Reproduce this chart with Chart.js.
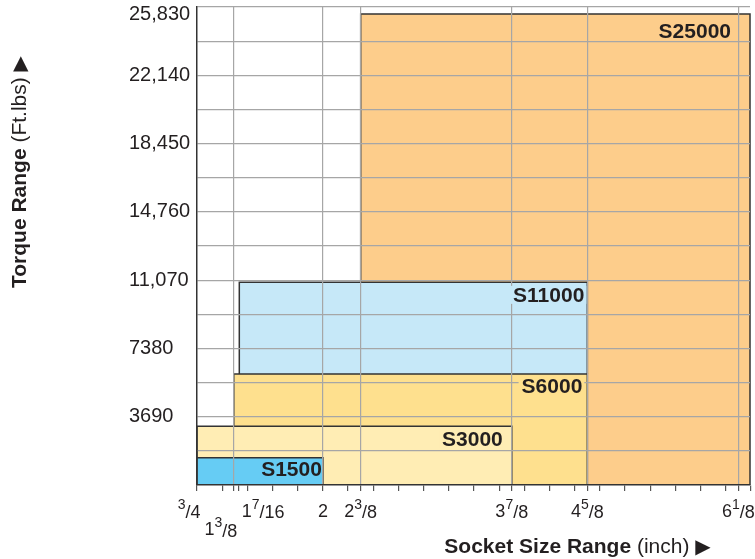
<!DOCTYPE html>
<html>
<head>
<meta charset="utf-8">
<script src="https://cdn.jsdelivr.net/npm/chart.js@4.4.0/dist/chart.umd.min.js"></script>
<style>
  body { margin: 0; background: #fff; }
</style>
</head>
<body>
<canvas id="rangeChart" width="755" height="559"></canvas>
<script>
// models
var models = ["S1500", "S3000", "S6000", "S11000", "S25000"];
// socket size range (inch, at the spot where the axis puts it)
var sizeFrom = [0.75, 0.75, 1.115, 1.17, 2.375];
var sizeTo = [2, 3.875, 4.625, 4.625, 6.24];
// torque range (ft.lbs)
var torqueFrom = [0, 0, 0, 6000, 0];
var torqueTo = [1470, 3180, 6000, 10950, 25450];

// axis ticks
var xTickValues = [0.75, 1.115, 1.16, 2, 2.375, 3.875, 4.625, 6.125];
var xTickWhole = ["", "1", "1", "2", "2", "3", "4", "6"];
var xTickNum = ["3", "3", "7", "", "3", "7", "5", "1"];
var xTickDen = ["4", "8", "16", "", "8", "8", "8", "8"];
var xMinorStep = 0.25;
var yTickValues = [3690, 7380, 11070, 14760, 18450, 22140, 25830];
var yTickLabels = ["3690", "7380", "11,070", "14,760", "18,450", "22,140", "25,830"];

// styles
var boxColors = ["#66ccf4", "#ffedb4", "#fee08e", "#c6e8f8", "#fdcd8b"];
var labelInset = [[1, 3.5], [9, 5], [5, 4], [3, 4.5], [19, 8.7]];
var xLabelAlign = ["right", "right", "left", "center", "center", "center", "center", "center"];
var xLabelRow = [0, 1, 0, 0, 0, 0, 0, 0];
var FONT = "'Liberation Sans', 'DejaVu Sans', Arial, sans-serif";
var INK = "#231f20";
var GRID = "#a6a6a6";

var xAllTicks = xTickValues.slice();
for (var t = 0.75; t <= 6.25; t += xMinorStep) {
  if (xAllTicks.indexOf(t) < 0) xAllTicks.push(t);
}
xAllTicks.sort(function (a, b) { return a - b; });

var datasets = models.map(function (m, i) {
  return {
    label: m,
    data: [
      { x: sizeFrom[i], y: torqueFrom[i] },
      { x: sizeFrom[i], y: torqueTo[i] },
      { x: sizeTo[i], y: torqueTo[i] },
      { x: sizeTo[i], y: torqueFrom[i] }
    ],
    fill: { value: torqueFrom[i] },
    backgroundColor: boxColors[i],
    borderColor: "#333",
    borderWidth: 1.5,
    pointRadius: 0,
    tension: 0,
    clip: false
  };
});

function drawFraction(ctx, x, y, whole, num, den, align) {
  var big = "18px " + FONT, small = "14px " + FONT;
  ctx.font = big;
  var ww = ctx.measureText(whole).width;
  ctx.font = small;
  var nw = ctx.measureText(num).width;
  ctx.font = big;
  var dw = den ? ctx.measureText("/" + den).width : 0;
  var total = ww + nw + dw;
  var left = align === "left" ? x : align === "right" ? x - total : x - total / 2;
  ctx.textAlign = "left";
  ctx.textBaseline = "alphabetic";
  ctx.font = big;
  ctx.fillText(whole, left, y);
  if (num) {
    ctx.font = small;
    ctx.fillText(num, left + ww, y - 8);
    ctx.font = big;
    ctx.fillText("/" + den, left + ww + nw, y + 1.5);
  }
}

// bold part, plain part, arrow, drawn left to right from x
function drawTitle(ctx, cx, y, bold, plain) {
  var arrow = "\u25B6";
  ctx.font = "bold 21px " + FONT;
  var w1 = ctx.measureText(bold).width;
  ctx.font = "21px " + FONT;
  var w2 = ctx.measureText(plain).width;
  ctx.font = "20px 'DejaVu Sans'";
  var w3 = ctx.measureText(arrow).width;
  var sx = cx - (w1 + w2 + w3) / 2;
  ctx.textAlign = "left";
  ctx.textBaseline = "alphabetic";
  ctx.font = "bold 21px " + FONT;
  ctx.fillText(bold, sx, y);
  ctx.font = "21px " + FONT;
  ctx.fillText(plain, sx + w1, y);
  ctx.font = "20px 'DejaVu Sans'";
  ctx.fillText(arrow, sx + w1 + w2, y);
}

var labelsPlugin = {
  id: "rangeLabels",
  afterDraw: function (chart) {
    var ctx = chart.ctx;
    var xs = chart.scales.x, ys = chart.scales.y;
    ctx.save();
    ctx.fillStyle = INK;

    // y tick labels
    ctx.font = "20px " + FONT;
    ctx.textAlign = "left";
    ctx.textBaseline = "middle";
    for (var k = 0; k < yTickValues.length; k++) {
      var py = Math.max(ys.getPixelForValue(yTickValues[k]), 14);
      ctx.fillText(yTickLabels[k], 129, py);
    }

    // x tick labels
    for (var i = 0; i < xTickValues.length; i++) {
      var px = xs.getPixelForValue(xTickValues[i]);
      var dx = xLabelAlign[i] === "center" ? 0 : 3.5;
      var base = xLabelRow[i] === 1 ? 535 : 516.5;
      drawFraction(ctx, px + dx, base, xTickWhole[i], xTickNum[i], xTickDen[i], xLabelAlign[i]);
    }

    // box names
    ctx.font = "bold 21px " + FONT;
    ctx.textAlign = "right";
    ctx.textBaseline = "alphabetic";
    for (var j = 0; j < models.length; j++) {
      var right = xs.getPixelForValue(sizeTo[j]);
      var top = ys.getPixelForValue(torqueTo[j]);
      var tx = right - labelInset[j][0];
      var ty = top + labelInset[j][1] + 15;
      var w = ctx.measureText(models[j]).width;
      ctx.fillStyle = boxColors[j];
      ctx.fillRect(tx - w - 3, ty - 16, w + 3 + Math.min(2, labelInset[j][0] - 1), 18);
      ctx.fillStyle = INK;
      ctx.fillText(models[j], tx, ty);
    }

    // axis titles
    drawTitle(ctx, 577.5, 553, "Socket Size Range", " (inch) ");
    ctx.translate(26, 172);
    ctx.rotate(-Math.PI / 2);
    drawTitle(ctx, 0, 0, "Torque Range", " (Ft.lbs) ");
    ctx.restore();
  }
};

var ctx = document.getElementById("rangeChart");

var rangeChart = new Chart(ctx, {
  type: "line",
  data: { datasets: datasets },
  plugins: [labelsPlugin],
  options: {
    responsive: false,
    animation: false,
    events: [],
    layout: { padding: { left: 130, top: 7, right: 5, bottom: 0 } },
    plugins: {
      legend: { display: false },
      tooltip: { enabled: false }
    },
    scales: {
      x: {
        type: "linear",
        min: 0.75,
        max: 6.24,
        afterBuildTicks: function (scale) {
          scale.ticks = xAllTicks.map(function (v) { return { value: v }; });
        },
        afterFit: function (scale) {
          scale.height = 74;
          scale.paddingLeft = 0;
          scale.paddingRight = 0;
        },
        ticks: { display: false },
        grid: {
          z: 1,
          color: function (c) {
            if (!c.tick) return "transparent";
            var v = c.tick.value;
            return (v > 0.75 && v !== 1.16 && xTickValues.indexOf(v) >= 0) ? GRID : "transparent";
          },
          tickColor: "#555",
          tickLength: 6,
          lineWidth: 1.2
        },
        border: { z: 2, color: "#333", width: 1.5 }
      },
      y: {
        min: 0,
        max: 25830,
        afterFit: function (scale) {
          scale.width = 67;
          scale.paddingTop = 0;
          scale.paddingBottom = 0;
        },
        ticks: { display: false, stepSize: 1845 },
        grid: {
          z: 1,
          drawTicks: false,
          color: function (c) {
            return c.tick && c.tick.value > 0 ? GRID : "transparent";
          },
          lineWidth: 1.2
        },
        border: { z: 2, color: "#333", width: 1.5 }
      }
    }
  }
});
</script>
</body>
</html>
